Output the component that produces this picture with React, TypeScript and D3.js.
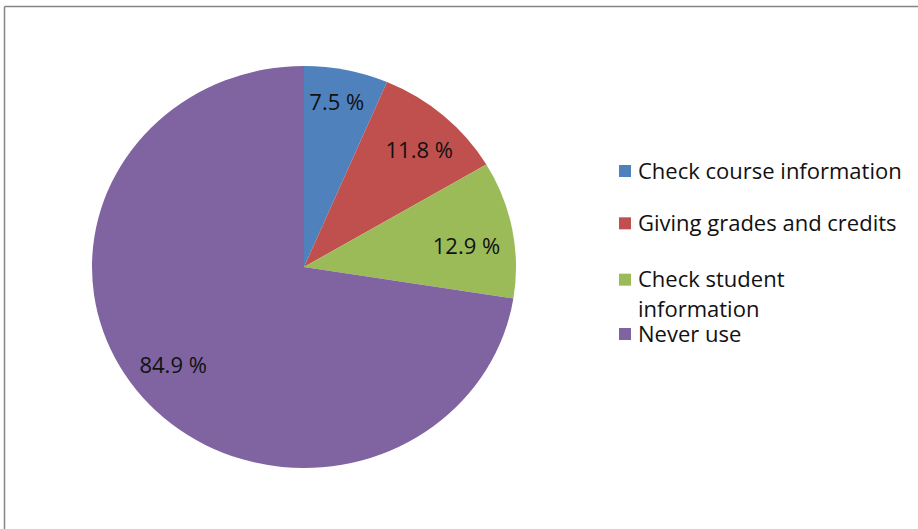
import React from 'react'
import * as d3 from 'd3'

// values as printed on the chart (they do not add to 100)
const categories = ['Check course information', 'Giving grades and credits', 'Check student information', 'Never use']
const values = [7.5, 11.8, 12.9, 84.9]
const colors = ['#4F81BD', '#C0504D', '#9BBB59', '#8064A2']
// legend text split the way the chart wraps it
const legendLines = [['Check course information'], ['Giving grades and credits'], ['Check student', 'information'], ['Never use']]

const W = 918
const H = 529

export default function App() {
  const cx = 304
  const cy = 267
  const r = 201
  const sx = 212 / 201 // picture is a little wider than tall
  const font = "'Open Sans', sans-serif"

  const pie = d3.pie<number>().sort(null).value(d => d)
  const arcs = pie(values)
  const arc = d3.arc<d3.PieArcDatum<number>>().innerRadius(0).outerRadius(r)
  const labelArc = d3.arc<d3.PieArcDatum<number>>().innerRadius(r * 0.815).outerRadius(r * 0.815)
  // labels sit a touch clockwise of the slice middle in the original
  const turn = (3.5 * Math.PI) / 180

  const legendY = d3.scalePoint<string>().domain(categories).range([171, 334])
  const legendShift = [0, -2, 0, 0]

  return (
    <svg width={W} height={H} style={{ position: 'absolute', left: 0, top: 0, background: '#fff' }}>
      <line x1={4.5} y1={6.5} x2={W} y2={6.5} stroke="#858585" strokeWidth={1.5} />
      <line x1={4.5} y1={6.5} x2={4.5} y2={H} stroke="#858585" strokeWidth={1.5} />

      <g transform={`translate(${cx},${cy}) scale(${sx},1)`}>
        {arcs.map((a, i) => (
          <path key={i} d={arc(a) || ''} fill={colors[i]} />
        ))}
      </g>

      {arcs.map((a, i) => {
        const k = i === 0 ? 0 : turn
        const [x, y] = labelArc.centroid({ ...a, startAngle: a.startAngle + k, endAngle: a.endAngle + k })
        return (
          <text
            key={i}
            x={cx + x}
            y={cy + y - (i === 0 ? 4 : 0)}
            dy="0.35em"
            textAnchor="middle"
            fontFamily={font}
            fontSize={22}
            fill="#111"
          >
            {values[i].toFixed(1)} %
          </text>
        )
      })}

      {categories.map((c, i) => {
        const y = (legendY(c) || 0) + legendShift[i]
        return (
          <g key={c}>
            <rect x={619} y={y - 6} width={12} height={12} fill={colors[i]} />
            <text x={638} y={y} fontFamily={font} fontSize={22} fill="#111">
              {legendLines[i].map((l, j) => (
                <tspan key={j} x={638} dy={j === 0 ? '0.35em' : 30}>
                  {l}
                </tspan>
              ))}
            </text>
          </g>
        )
      })}
    </svg>
  )
}
